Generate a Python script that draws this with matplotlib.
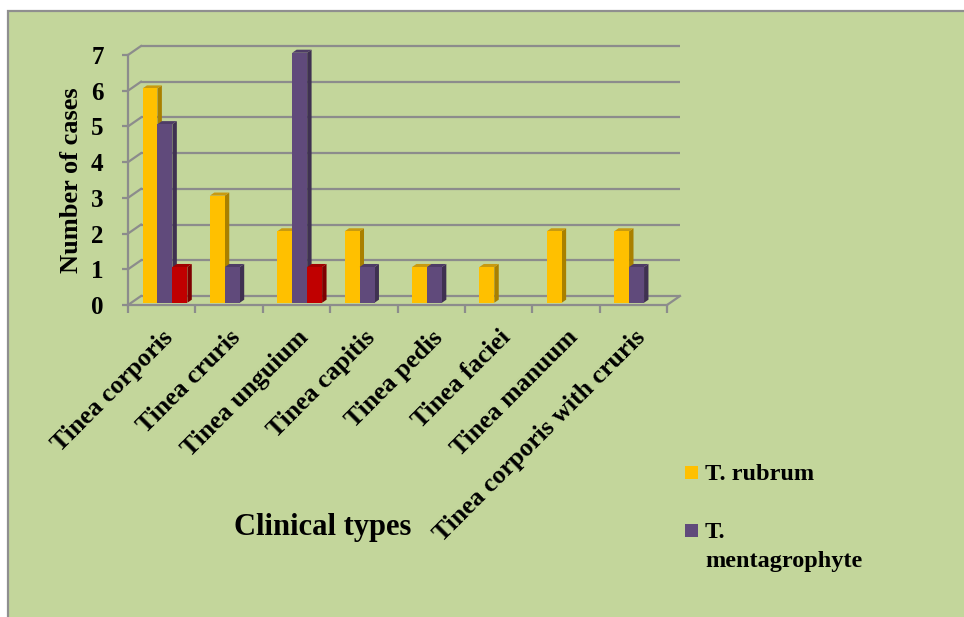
import numpy as np
import matplotlib
matplotlib.use("Agg")
import matplotlib.pyplot as plt
from matplotlib.patches import Rectangle
from matplotlib.collections import PolyCollection

# ---- data -------------------------------------------------------------
categories = [
    "Tinea corporis", "Tinea cruris", "Tinea unguium", "Tinea capitis",
    "Tinea pedis", "Tinea faciei", "Tinea manuum", "Tinea corporis with cruris",
]
t_rubrum = [6, 3, 2, 2, 1, 1, 2, 2]
t_mentagrophyte = [5, 1, 7, 1, 1, 0, 0, 1]
other_species = [1, 0, 1, 0, 0, 0, 0, 0]
y_ticks = [0, 1, 2, 3, 4, 5, 6, 7]

series = [
    (t_rubrum, ["T. rubrum"], ("#FFC000", "#A98000", "#C89A10")),
    (t_mentagrophyte, ["T.", "mentagrophyte"], ("#604A7B", "#3F3151", "#4E3C66")),
    (other_species, None, ("#C00000", "#7E0000", "#A00000")),
]

# ---- style --------------------------------------------------------------
FONT = "Liberation Serif"
GREEN = "#C3D69B"
GRID = "#8C8C8C"

W, H = 964, 617
fig = plt.figure(figsize=(W / 100, H / 100), dpi=100)
fig.patch.set_facecolor("white")

# green chart panel with grey border
fig.add_artist(Rectangle((7.5 / W, -0.02), 1.05, 1 - 11 / H + 0.02,
                         transform=fig.transFigure, facecolor=GREEN,
                         edgecolor="#8F8F8F", lw=1.6, zorder=0))

# axes covering the front plane of the pseudo-3D chart
ax_l, ax_r, ax_b, ax_t = 128, 667, 305, 55
ax = fig.add_axes([ax_l / W, 1 - ax_b / H, (ax_r - ax_l) / W, (ax_b - ax_t) / H])
ax.patch.set_visible(False)
n = len(categories)
ax.set_xlim(-0.5, n - 0.5)
ax.set_ylim(0, 7)

# depth vector (back wall offset) in data units
px_x = (ax_r - ax_l) / n
px_y = (ax_b - ax_t) / 7
DX = 13 / px_x
DY = 9 / px_y

x0, x1 = -0.5, n - 0.5
# back wall gridlines and left wall diagonals
for k in y_ticks:
    ax.plot([x0 + DX, x1 + DX], [k + DY, k + DY], color=GRID, lw=1.6,
            clip_on=False, zorder=1, solid_capstyle="butt")
    ax.plot([x0, x0 + DX], [k, k + DY], color=GRID, lw=1.6,
            clip_on=False, zorder=1)
# right edge of the floor
ax.plot([x1, x1 + DX], [0, DY], color=GRID, lw=1.6, clip_on=False, zorder=1)

# bars
xpos = np.arange(n)
bw = 0.222
d0, dd = 0.25, 0.34
for j, (vals, label, (c_front, c_side, c_top)) in enumerate(series):
    vals = np.asarray(vals, dtype=float)
    m = vals > 0
    xc = xpos[m] + (j - 1) * bw + d0 * DX
    v = vals[m]
    base = d0 * DY
    sides, tops = [], []
    for xi, vi in zip(xc, v):
        xl, xr = xi - bw / 2, xi + bw / 2
        t = base + vi
        sides.append([(xr, base), (xr + dd * DX, base + dd * DY),
                      (xr + dd * DX, t + dd * DY), (xr, t)])
        tops.append([(xl, t), (xr, t), (xr + dd * DX, t + dd * DY),
                     (xl + dd * DX, t + dd * DY)])
    ax.add_collection(PolyCollection(sides, facecolor=c_side, edgecolor="none",
                                     zorder=3 + 2 * j, clip_on=False))
    ax.add_collection(PolyCollection(tops, facecolor=c_top, edgecolor="none",
                                     zorder=3 + 2 * j, clip_on=False))
    ax.bar(xc, v, width=bw, bottom=base, color=c_front, linewidth=0,
           zorder=4 + 2 * j, clip_on=False)

# spines / ticks
for s in ("top", "right"):
    ax.spines[s].set_visible(False)
for s in ("left", "bottom"):
    ax.spines[s].set_color(GRID)
    ax.spines[s].set_linewidth(1.6)
    ax.spines[s].set_zorder(2)

ax.set_yticks(y_ticks)
ax.set_yticklabels([str(t) for t in y_ticks], fontfamily=FONT,
                   fontweight="bold", fontsize=18)
ax.tick_params(axis="y", length=4.5, width=1.6, color=GRID, pad=13)

ax.set_xticks(xpos)
ax.set_xticklabels(categories, rotation=45, ha="right", va="top",
                   rotation_mode="anchor", fontfamily=FONT,
                   fontweight="bold", fontsize=18.5)
ax.tick_params(axis="x", which="major", length=0, pad=15)
ax.set_xticks(np.arange(n + 1) - 0.5, minor=True)
ax.tick_params(axis="x", which="minor", length=6, width=1.6, color=GRID)

ax.set_ylabel("Number of cases", fontfamily=FONT, fontweight="bold",
              fontsize=19, va="center")
ax.yaxis.set_label_coords((72 - ax_l) / (ax_r - ax_l), 0.5)
ax.set_xlabel("Clinical types", fontfamily=FONT, fontweight="bold",
              fontsize=22)
ax.xaxis.set_label_coords((323 - ax_l) / (ax_r - ax_l),
                          (ax_b - 528) / (ax_b - ax_t))
ax.xaxis.label.set_va("center")

# legend
leg_rows = [(series[0], 466, [480]), (series[1], 524, [538, 567])]
for (vals, lines, colors), sq_top, baselines in leg_rows:
    fig.add_artist(Rectangle((685 / W, 1 - (sq_top + 13) / H), 12.5 / W, 13 / H,
                             transform=fig.transFigure, facecolor=colors[0],
                             edgecolor="none"))
    for line, bl in zip(lines, baselines):
        fig.text(705 / W, 1 - bl / H, line, ha="left", va="baseline",
                 fontfamily=FONT, fontweight="bold", fontsize=17.5)

fig.savefig("out.png", dpi=100)
